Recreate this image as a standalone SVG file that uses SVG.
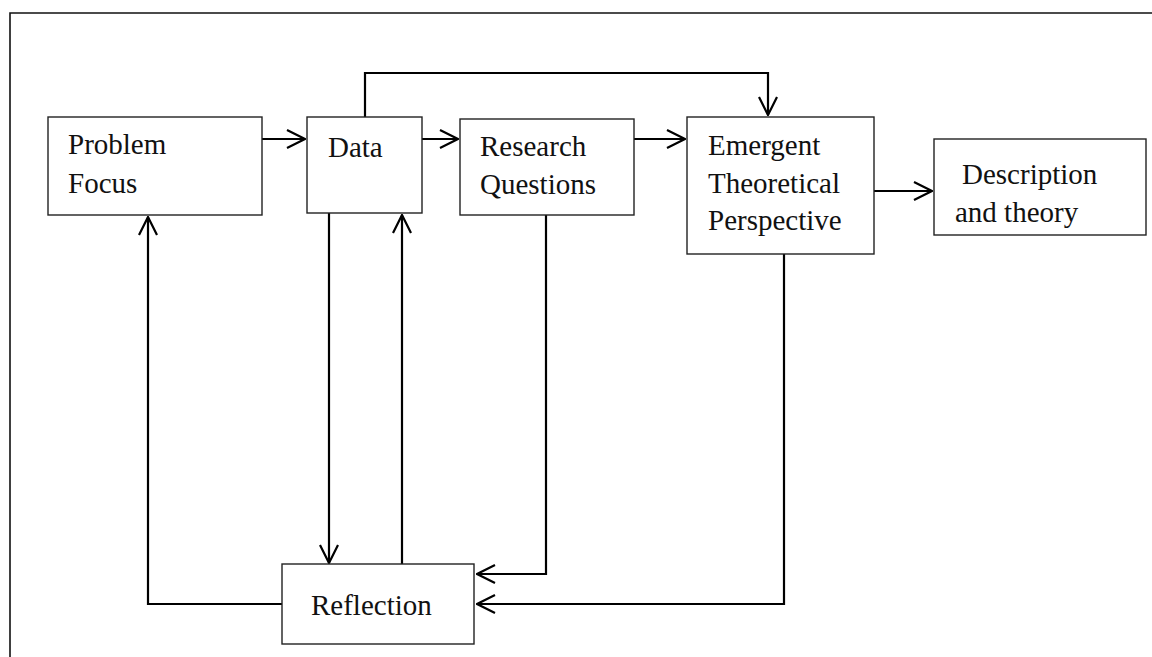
<svg xmlns="http://www.w3.org/2000/svg" width="1152" height="657" viewBox="0 0 1152 657">
  <style>
    .box { fill: #fff; stroke: #222; stroke-width: 1.4; }
    .lbl { font-family: "Liberation Serif", "Times New Roman", serif; font-size: 29px; fill: #111; }
    .wire { fill: none; stroke: #000; stroke-width: 2.2; }
    .frame { fill: none; stroke: #111; stroke-width: 1.6; }
  </style>
  <defs>
    <marker id="chev" viewBox="0 0 20 20" refX="19" refY="10" markerWidth="20" markerHeight="20" markerUnits="userSpaceOnUse" orient="auto">
      <path d="M1,1 L19,10 L1,19" fill="none" stroke="#000" stroke-width="2.2"/>
    </marker>
  </defs>
  <rect width="1152" height="657" fill="#fff"/>

  <!-- page frame: top and left edges -->
  <path class="frame" d="M10,657 V13 H1152"/>

  <g id="connectors">
    <path class="wire" marker-end="url(#chev)" d="M262,139 H305"/>
    <path class="wire" marker-end="url(#chev)" d="M422,139 H458"/>
    <path class="wire" marker-end="url(#chev)" d="M634,139 H685"/>
    <path class="wire" marker-end="url(#chev)" d="M874,191 H932"/>
    <path class="wire" marker-end="url(#chev)" d="M365,117 V73 H768 V115"/>
    <path class="wire" marker-end="url(#chev)" d="M329,213 V563"/>
    <path class="wire" marker-end="url(#chev)" d="M402,564 V215"/>
    <path class="wire" marker-end="url(#chev)" d="M282,604 H148 V217"/>
    <path class="wire" marker-end="url(#chev)" d="M546,215 V574 H477"/>
    <path class="wire" marker-end="url(#chev)" d="M784,254 V604 H477"/>
  </g>

  <g id="problem-focus">
    <rect class="box" x="48" y="117" width="214" height="98"/>
    <text class="lbl" x="68" y="154">Problem</text>
    <text class="lbl" x="68" y="193">Focus</text>
  </g>
  <g id="data">
    <rect class="box" x="307" y="117" width="115" height="96"/>
    <text class="lbl" x="328" y="157">Data</text>
  </g>
  <g id="research-questions">
    <rect class="box" x="460" y="119" width="174" height="96"/>
    <text class="lbl" x="480" y="156">Research</text>
    <text class="lbl" x="480" y="194">Questions</text>
  </g>
  <g id="emergent-perspective">
    <rect class="box" x="687" y="117" width="187" height="137"/>
    <text class="lbl" x="708" y="155">Emergent</text>
    <text class="lbl" x="708" y="193">Theoretical</text>
    <text class="lbl" x="708" y="230">Perspective</text>
  </g>
  <g id="description-theory">
    <rect class="box" x="934" y="139" width="212" height="96"/>
    <text class="lbl" x="962" y="184">Description</text>
    <text class="lbl" x="955" y="222">and theory</text>
  </g>
  <g id="reflection">
    <rect class="box" x="282" y="564" width="192" height="80"/>
    <text class="lbl" x="311" y="615">Reflection</text>
  </g>
</svg>
